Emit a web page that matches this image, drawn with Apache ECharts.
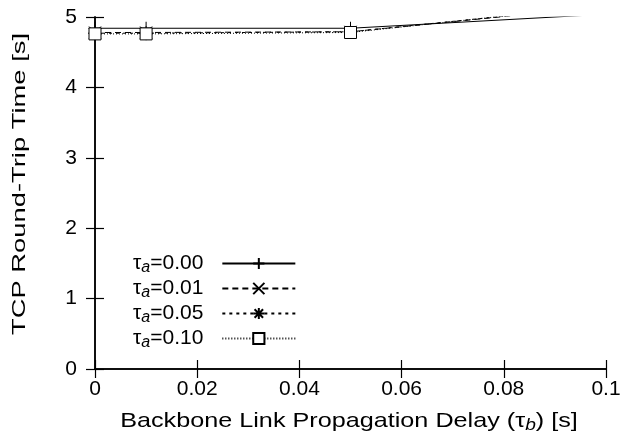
<!DOCTYPE html>
<html>
<head>
<meta charset="utf-8">
<script src="https://cdn.jsdelivr.net/npm/echarts@6/dist/echarts.min.js"></script>
<style>
  html, body { margin: 0; padding: 0; background: #fff; }
  #chart { width: 625px; height: 443px; }
</style>
</head>
<body>
<div id="chart"></div>
<script>
// Backbone propagation delay (tau_b, seconds)
const delays = [0, 0.01, 0.05, 0.1];

// Mean TCP round-trip time (s) for each access delay tau_a
const rttA000 = [4.84, 4.84, 4.84, 5.04];
const rttA001 = [4.78, 4.78, 4.79, 5.15];
const rttA005 = [4.77, 4.77, 4.79, 5.16];
const rttA010 = [4.76, 4.76, 4.78, 5.17];

const legendLabels = ['0.00', '0.01', '0.05', '0.10'];
const xTicks = [0, 0.02, 0.04, 0.06, 0.08, 0.1];
const yTicks = [0, 1, 2, 3, 4, 5];

const xTitle = ['Backbone Link Propagation Delay (τ', 'b', ') [s]'];
const yTitle = 'TCP Round-Trip Time [s]';

const FONT = 'Liberation Sans, Arial, Helvetica, sans-serif';

// stroked marker shapes
const PLUS = 'path://M0,5L10,5M5,0L5,10';
const CROSS = 'path://M0,0L10,10M10,0L0,10';
const STAR = 'path://M0,5L10,5M5,0L5,10M1.2,1.2L8.8,8.8M8.8,1.2L1.2,8.8';

function pairs(vals) {
  return delays.map((d, i) => [d, vals[i]]);
}

function makeSeries(name, vals, dash, symbol, size, hollow) {
  return {
    name: name,
    type: 'line',
    data: pairs(vals),
    clip: true,
    symbol: symbol,
    symbolSize: size,
    showAllSymbol: true,
    lineStyle: { color: '#000', width: 1, type: dash },
    itemStyle: hollow
      ? { color: '#fff', borderColor: '#000', borderWidth: 1 }
      : { color: '#000', borderColor: '#000', borderWidth: 1 },
    emphasis: { disabled: true },
    animation: false
  };
}

const names = legendLabels.map(v => 'τa=' + v);

const series = [
  makeSeries(names[0], rttA000, 'solid', PLUS, 13, false),
  makeSeries(names[1], rttA001, [6, 4], CROSS, 12, false),
  makeSeries(names[2], rttA005, [3, 4], STAR, 14, false),
  makeSeries(names[3], rttA010, [1, 2], 'rect', 12, true)
];

const chart = echarts.init(document.getElementById('chart'), null, { renderer: 'canvas' });

const axisLine = { show: true, lineStyle: { color: '#000', width: 1.5 } };
const tickStyle = { show: true, inside: true, length: 9, lineStyle: { color: '#000', width: 1.2 } };

const richBase = {
  t: { fontFamily: FONT, fontSize: 21, color: '#000', lineHeight: 23 },
  s: { fontFamily: FONT, fontSize: 16, fontStyle: 'italic', color: '#000', lineHeight: 23, padding: [9, 0, 0, 0] }
};

chart.setOption({
  animation: false,
  backgroundColor: '#fff',
  grid: { left: 95, right: 19, top: 17, bottom: 74, containLabel: false },
  legend: {
    orient: 'vertical',
    left: 133,
    top: 251,
    padding: 0,
    itemGap: 0,
    itemWidth: 73,
    itemHeight: 14,
    align: 'right',
    selectedMode: false,
    data: names,
    formatter: function (name) {
      const v = name.slice(3);
      return '{t|τ}{s|a}{t|=' + v + '}{p|}';
    },
    textStyle: {
      rich: {
        t: richBase.t,
        s: richBase.s,
        p: { width: 14, lineHeight: 23 }
      }
    }
  },
  graphic: [
    {
      type: 'text',
      x: 349, y: 421,
      scaleX: 1.2,
      silent: true,
      style: {
        text: '{t|' + xTitle[0] + '}{s|' + xTitle[1] + '}{t|' + xTitle[2] + '}',
        align: 'center',
        verticalAlign: 'middle',
        rich: richBase
      }
    },
    {
      type: 'text',
      x: 20, y: 184,
      rotation: Math.PI / 2,
      scaleX: 1.52,
      silent: true,
      style: {
        text: yTitle,
        fontFamily: FONT,
        fontSize: 18,
        fill: '#000',
        align: 'center',
        verticalAlign: 'middle'
      }
    }
  ],
  xAxis: [
    {
      type: 'value',
      min: 0, max: 0.1, interval: 0.02,
      position: 'bottom',
      axisLine: axisLine,
      axisTick: tickStyle,
      splitLine: { show: false },
      axisLabel: {
        margin: 10,
        fontFamily: FONT, fontSize: 21, color: '#000',
        formatter: function (v) {
          const hit = xTicks.find(t => Math.abs(t - v) < 1e-9);
          return hit === undefined ? '' : String(+hit.toFixed(2));
        }
      }
    },
    {
      type: 'value',
      min: 0, max: 0.1, interval: 0.02,
      position: 'top',
      axisLine: axisLine,
      axisTick: tickStyle,
      axisLabel: { show: false },
      splitLine: { show: false }
    }
  ],
  yAxis: [
    {
      type: 'value',
      min: 0, max: 5, interval: 1,
      position: 'left',
      axisLine: axisLine,
      axisTick: tickStyle,
      splitLine: { show: false },
      axisLabel: {
        margin: 18,
        fontFamily: FONT, fontSize: 21, color: '#000',
        formatter: function (v) {
          return yTicks.indexOf(v) >= 0 ? String(v) : '';
        }
      }
    },
    {
      type: 'value',
      min: 0, max: 5, interval: 1,
      position: 'right',
      axisLine: axisLine,
      axisTick: tickStyle,
      axisLabel: { show: false },
      splitLine: { show: false }
    }
  ],
  series: series
});
</script>
</body>
</html>
